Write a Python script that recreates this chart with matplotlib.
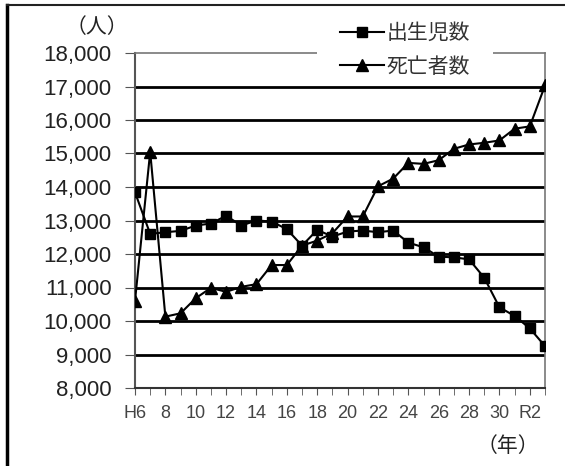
import matplotlib
matplotlib.use("Agg")
import matplotlib.pyplot as plt
from matplotlib.lines import Line2D
from matplotlib.patches import Rectangle

plt.rcParams['font.family'] = ['Noto Sans CJK JP', 'DejaVu Sans']

# 年 (H6 .. R3)
years = ["H6", "7", "8", "9", "10", "11", "12", "13", "14", "15", "16", "17", "18", "19",
         "20", "21", "22", "23", "24", "25", "26", "27", "28", "29", "30", "R1", "R2", "R3"]
births = [13840, 12600, 12650, 12690, 12850, 12910, 13140, 12850, 13000, 12970, 12740, 12250,
          12720, 12520, 12670, 12700, 12650, 12700, 12340, 12200, 11920, 11900, 11840, 11290,
          10410, 10150, 9780, 9250]
deaths = [10600, 15050, 10130, 10230, 10680, 10990, 10870, 11020, 11100, 11670, 11670, 12250,
          12400, 12620, 13120, 13120, 14020, 14250, 14720, 14690, 14800, 15140, 15270, 15320,
          15390, 15740, 15810, 17030]
tick_labels = ["H6", "8", "10", "12", "14", "16", "18", "20", "22", "24", "26", "28", "30", "R2"]

fig = plt.figure(figsize=(5.65, 4.66), dpi=100)
ax = fig.add_axes([135 / 565, 78 / 466, 410 / 565, 335 / 466])

x = list(range(len(years)))
ax.plot(x, births, color="black", lw=1.5, marker="s", ms=7.5, label="出生児数", zorder=3)
ax.plot(x, deaths, color="black", lw=1.5, marker="^", ms=9, label="死亡者数", zorder=3)

ax.set_xlim(0, len(years) - 1)
ax.set_ylim(8000, 18000)
yt = list(range(8000, 18001, 1000))
ax.set_yticks(yt)
ax.set_yticklabels(["{:,}".format(v) for v in yt], fontsize=16, family="Liberation Sans",
                   color="#222222")
ax.set_xticks(x, minor=True)
ax.set_xticks(list(range(0, 27, 2)))
ax.set_xticklabels(tick_labels, fontsize=13, family="Liberation Sans", color="#444444")
ax.tick_params(axis="x", which="both", length=5, color="#555555", pad=7)
ax.tick_params(axis="y", length=7, color="#555555", pad=10)

for v in yt[1:-1]:
    ax.axhline(v, color="black", lw=2, zorder=1)
for s in ["top", "right"]:
    ax.spines[s].set_color("#777777")
    ax.spines[s].set_linewidth(1.2)
ax.spines["left"].set_color("#555555")
ax.spines["left"].set_linewidth(1.5)
ax.spines["bottom"].set_color("#333333")
ax.spines["bottom"].set_linewidth(1.5)

# white gap in the top frame behind the legend
fig.patches.append(Rectangle((317 / 565, 1 - 60 / 466), 176 / 565, 16 / 466,
                             transform=fig.transFigure, facecolor="white", edgecolor="none",
                             zorder=4))

leg = fig.legend(loc="center", bbox_to_anchor=(405 / 565, 1 - 50 / 466), frameon=False,
                 fontsize=15, handlelength=2.1, labelspacing=0.55, borderpad=0.2,
                 handletextpad=0.1, borderaxespad=0)
for t in leg.get_texts():
    t.set_color("#333333")
leg.set_zorder(5)

fig.text(97 / 565, 1 - 27 / 466, "（人）", fontsize=15, ha="center", va="center", color="#222222")
fig.text(508 / 565, 1 - 446 / 466, "（年）", fontsize=15, ha="center", va="center", color="#222222")

# outer border (left and top edges)
fig.lines.append(Line2D([7 / 565, 7 / 565], [0, 1 - 5 / 466], transform=fig.transFigure,
                        color="black", lw=2.5))
fig.lines.append(Line2D([7 / 565, 1], [1 - 5 / 466, 1 - 5 / 466], transform=fig.transFigure,
                        color="#222222", lw=1.5))

fig.savefig("out.png", dpi=100)
